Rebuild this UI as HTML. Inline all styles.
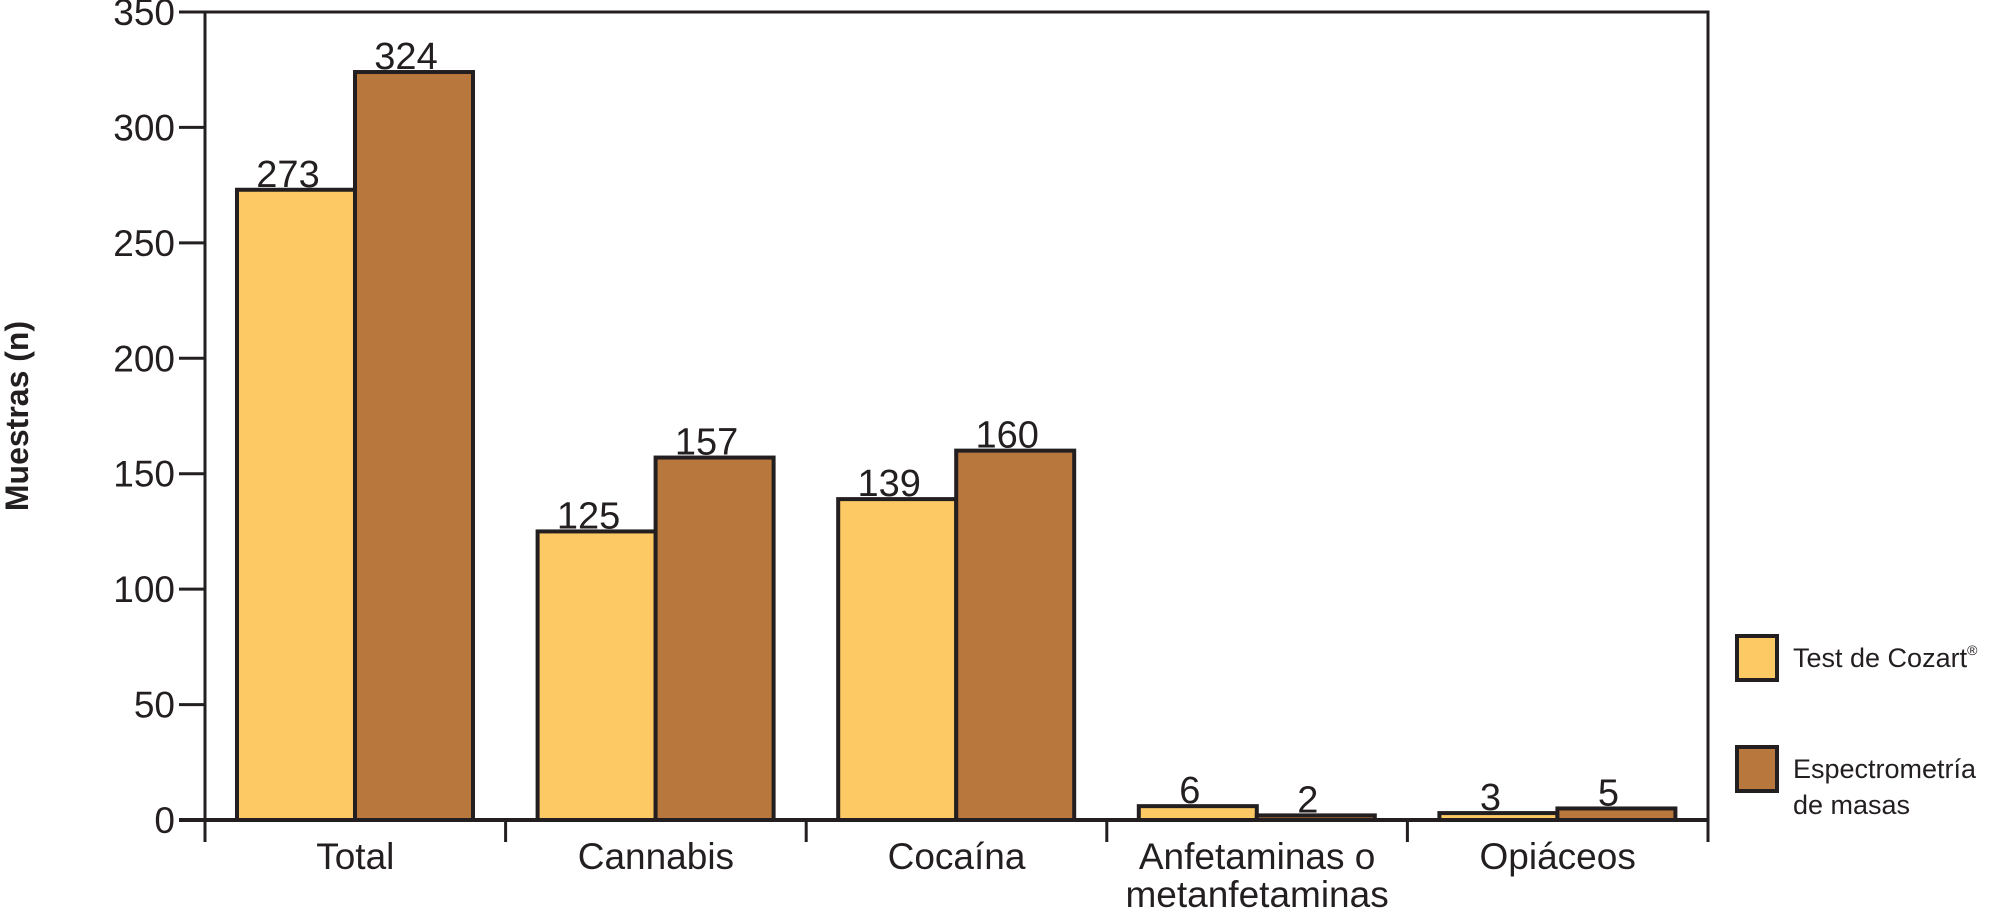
<!DOCTYPE html>
<html><head><meta charset="utf-8"><style>
html,body{margin:0;padding:0;background:#fff;}
svg{display:block;font-family:"Liberation Sans",sans-serif;}
</style></head><body>
<svg id="chart" width="1991" height="910" viewBox="0 0 1991 910">
<g id="plot"></g>
<text x="28" y="416" transform="rotate(-90 28 416)" text-anchor="middle" font-size="32" font-weight="bold" fill="#231f20">Muestras (n)</text>
<g>
<rect x="1737" y="636" width="40" height="44" fill="#fcc965" stroke="#231f20" stroke-width="4"/>
<text x="1793" y="667" font-size="27" fill="#231f20" font-family="'Liberation Sans Narrow','Liberation Sans',sans-serif">Test de Cozart<tspan font-size="14" dy="-12">®</tspan></text>
<rect x="1737" y="747" width="40" height="44" fill="#b8773c" stroke="#231f20" stroke-width="4"/>
<text x="1793" y="778" font-size="27" fill="#231f20" font-family="'Liberation Sans Narrow','Liberation Sans',sans-serif">Espectrometría</text>
<text x="1793" y="814" font-size="27" fill="#231f20" font-family="'Liberation Sans Narrow','Liberation Sans',sans-serif">de masas</text>
</g>
</svg>
<script>
const categories = [["Total"],["Cannabis"],["Cocaína"],["Anfetaminas o","metanfetaminas"],["Opiáceos"]];
const cozart = [273,125,139,6,3];
const espectrometria = [324,157,160,2,5];
const yTicks = [0,50,100,150,200,250,300,350];

const X0=205, X1=1708, Y0=820, YTOP=12, YMAX=350;
const groupW=(X1-X0)/categories.length;
const barW=118, barOff=32;
function y(v){return Y0-(Y0-YTOP)*v/YMAX;}
function gx(i){return X0+i*groupW;}
const NS="http://www.w3.org/2000/svg";
const plot=document.getElementById('plot');
function mk(tag,attrs,parent){const e=document.createElementNS(NS,tag);for(const k in attrs)e.setAttribute(k,attrs[k]);(parent||plot).appendChild(e);return e;}

const fr=mk('path',{d:`M${X0} ${Y0} V${YTOP} H${X1} V${Y0+22}`,fill:'none',stroke:'#231f20','stroke-width':3});



yTicks.forEach(t=>{
  const l=mk('line',{x1:X0-26,x2:X0,y1:y(t),y2:y(t),stroke:'#231f20','stroke-width':3});
  
  
  const tx=mk('text',{x:X0-30,y:y(t)+13,'text-anchor':'end','font-size':37,fill:'#231f20'});
  tx.textContent=t;
  
  
});

categories.forEach((c,i)=>{
  const g0=gx(i);
  const tk=mk('line',{x1:g0,x2:g0,y1:Y0,y2:Y0+22,stroke:'#231f20','stroke-width':3});
  
  
  [[cozart,'#fcc965','cozart'],[espectrometria,'#b8773c','espectrometria']].forEach((s,j)=>{
    const v=s[0][i];
    const bx=g0+barOff+j*barW;
    const r=mk('rect',{x:bx,y:y(v),width:barW,height:Y0-y(v),fill:s[1],stroke:'#231f20','stroke-width':4});
    
    
    const t=mk('text',{x:bx+barW/2-8,y:y(v)-3,'text-anchor':'middle','font-size':38,fill:'#231f20'});
    t.textContent=v;
    
    
  });
  c.forEach((line,k)=>{
    const t=mk('text',{x:g0+groupW/2,y:869+k*38,'text-anchor':'middle','font-size':37,fill:'#231f20'});
    t.textContent=line;
    
    
  });
});
const bl=mk('line',{x1:X0-26,x2:X1,y1:Y0,y2:Y0,stroke:'#231f20','stroke-width':4});


</script>
</body></html>
